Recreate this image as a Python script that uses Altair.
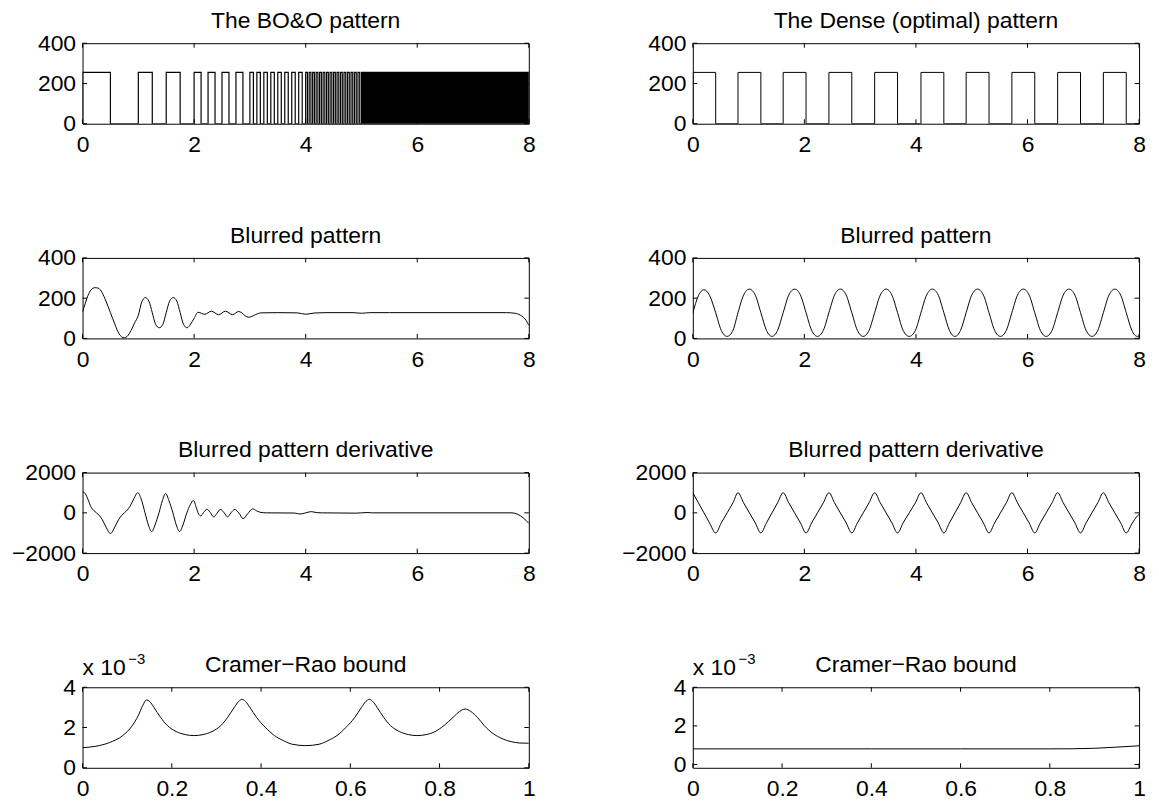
import altair as alt
import pandas as pd

FONT = "Liberation Sans"
FS = 23
W, H = 449, 81
TICK = 4.5

# ---------------- data ----------------
# BO&O pattern: number of equal (50% duty) pulses in each unit interval
bo_unit_start = [0, 1, 2, 3, 4, 5, 6, 7]
bo_pulses_per_unit = [1, 2, 4, 8, 16, 32, 64, 128]
pattern_level = 255

# Dense (optimal) pattern: rising / falling edges
dense_rise = [0, 0.81, 1.62, 2.44, 3.26, 4.09, 4.90, 5.72, 6.54, 7.36]
dense_fall = [0.41, 1.22, 2.03, 2.85, 3.67, 4.50, 5.31, 6.13, 6.95, 7.77]

# Blurred BO&O pattern
lb_x = [0, 0.05, 0.1, 0.15, 0.22, 0.28, 0.35, 0.42, 0.5, 0.58,
        0.65, 0.7, 0.75, 0.8, 0.87, 0.93, 1.0, 1.06, 1.125, 1.19,
        1.25, 1.31, 1.375, 1.44, 1.5, 1.56, 1.625, 1.69, 1.75, 1.81,
        1.875, 1.94, 2.0, 2.07, 2.19, 2.31, 2.44, 2.56, 2.69, 2.8,
        2.97, 3.1, 3.2, 3.5, 3.85, 4.0, 4.15, 4.4, 4.85, 5.0,
        5.15, 5.5, 7.6, 7.75, 7.85, 7.95, 8.0]
lb_y = [130, 175, 215, 240, 252, 250, 228, 185, 128, 70,
        25, 8, 3, 10, 40, 75, 115, 180, 203, 185,
        128, 70, 53, 70, 128, 185, 203, 185, 128, 70,
        53, 72, 100, 130, 120, 135, 118, 135, 118, 134,
        105, 118, 127, 128, 127, 120, 126, 128, 128, 125,
        128, 128, 128, 125, 115, 90, 65]

# Blurred BO&O pattern derivative
ld_x = [0, 0.05, 0.1, 0.15, 0.2, 0.25, 0.3, 0.35, 0.42, 0.5,
        0.58, 0.65, 0.7, 0.75, 0.8, 0.85, 0.92, 0.99, 1.05, 1.12,
        1.18, 1.24, 1.3, 1.37, 1.43, 1.49, 1.55, 1.62, 1.68, 1.74,
        1.8, 1.87, 1.93, 1.99, 2.04, 2.08, 2.12, 2.17, 2.23, 2.29,
        2.35, 2.41, 2.47, 2.54, 2.6, 2.66, 2.73, 2.8, 2.88, 2.96,
        3.05, 3.12, 3.2, 3.3, 3.8, 3.9, 4.0, 4.1, 4.2, 4.3,
        4.9, 5.0, 5.1, 5.2, 7.7, 7.8, 7.9, 8.0]
ld_y = [1050, 950, 650, 300, 120, 0, -130, -320, -700, -1030,
        -700, -320, -130, 0, 130, 320, 700, 1000, 700, 0,
        -600, -930, -600, 0, 600, 960, 600, 0, -600, -930,
        -600, 0, 400, 620, 250, -50, -150, 20, 180, 20,
        -200, -20, 170, 0, -200, 0, 170, 0, -290, -50,
        200, 100, 20, 0, -10, -60, 0, 60, 10, 0,
        -15, 0, 15, 0, 0, -70, -250, -520]

# Dense pattern: blurred and derivative (shared sample positions)
right_x = [0, 0.1, 0.2, 0.3, 0.41, 0.51, 0.615, 0.72,
           0.81, 0.91, 1.015, 1.12, 1.22, 1.32, 1.42, 1.52,
           1.62, 1.72, 1.825, 1.93, 2.03, 2.13, 2.235, 2.34,
           2.44, 2.54, 2.645, 2.75, 2.85, 2.95, 3.055, 3.16,
           3.26, 3.36, 3.465, 3.57, 3.67, 3.77, 3.88, 3.99,
           4.09, 4.19, 4.295, 4.40, 4.50, 4.60, 4.70, 4.80,
           4.90, 5.00, 5.105, 5.21, 5.31, 5.41, 5.515, 5.62,
           5.72, 5.82, 5.925, 6.03, 6.13, 6.23, 6.335, 6.44,
           6.54, 6.64, 6.745, 6.85, 6.95, 7.05, 7.155, 7.26,
           7.36, 7.46, 7.565, 7.67, 7.77, 7.87, 7.97, 8.0]
rb_y = [125, 212, 242, 214, 128, 40, 10, 40,
        128, 215, 245, 215, 128, 40, 10, 40,
        128, 215, 245, 215, 128, 40, 10, 40,
        128, 215, 245, 215, 128, 40, 10, 40,
        128, 215, 245, 215, 128, 40, 10, 40,
        128, 215, 245, 215, 128, 40, 10, 40,
        128, 215, 245, 215, 128, 40, 10, 40,
        128, 215, 245, 215, 128, 40, 10, 40,
        128, 215, 245, 215, 128, 40, 10, 40,
        128, 215, 245, 215, 128, 40, 10, 12]
rd_y = [1000, 500, 0, -500, -1000, -500, 0, 500,
        1000, 500, 0, -500, -1000, -500, 0, 500,
        1000, 500, 0, -500, -1000, -500, 0, 500,
        1000, 500, 0, -500, -1000, -500, 0, 500,
        1000, 500, 0, -500, -1000, -500, 0, 500,
        1000, 500, 0, -500, -1000, -500, 0, 500,
        1000, 500, 0, -500, -1000, -500, 0, 500,
        1000, 500, 0, -500, -1000, -500, 0, 500,
        1000, 500, 0, -500, -1000, -500, 0, 500,
        1000, 500, 0, -500, -1000, -550, -150, -80]

# Cramer-Rao bounds (units of 1e-3)
crl_x = [0, 0.03, 0.06, 0.09, 0.11, 0.125, 0.135, 0.143, 0.15, 0.16,
         0.175, 0.19, 0.21, 0.23, 0.25, 0.27, 0.29, 0.31, 0.325, 0.34,
         0.35, 0.357, 0.365, 0.375, 0.39, 0.41, 0.43, 0.45, 0.47, 0.5,
         0.53, 0.55, 0.57, 0.59, 0.61, 0.625, 0.635, 0.643, 0.65, 0.66,
         0.675, 0.69, 0.71, 0.73, 0.75, 0.77, 0.79, 0.81, 0.83, 0.845,
         0.857, 0.87, 0.885, 0.9, 0.92, 0.94, 0.96, 0.98, 1.0]
crl_y = [1.00, 1.07, 1.25, 1.6, 2.05, 2.6, 3.1, 3.37, 3.3, 3.0,
         2.5, 2.1, 1.8, 1.65, 1.6, 1.65, 1.8, 2.1, 2.5, 3.0,
         3.3, 3.4, 3.3, 3.0, 2.5, 2.0, 1.6, 1.35, 1.17, 1.10,
         1.17, 1.35, 1.6, 2.0, 2.5, 3.0, 3.3, 3.4, 3.3, 3.0,
         2.5, 2.1, 1.8, 1.65, 1.6, 1.65, 1.8, 2.1, 2.5, 2.8,
         2.92, 2.8, 2.5, 2.1, 1.7, 1.45, 1.3, 1.23, 1.22]
crr_x = [0, 0.2, 0.4, 0.6, 0.8, 0.85, 0.9, 0.95, 1.0]
crr_y = [0.81, 0.81, 0.81, 0.81, 0.81, 0.815, 0.84, 0.9, 0.97]

titles = ["The BO&O pattern", "The Dense (optimal) pattern",
          "Blurred pattern", "Blurred pattern",
          "Blurred pattern derivative", "Blurred pattern derivative",
          "Cramer\u2212Rao bound", "Cramer\u2212Rao bound"]
x8_ticks = [0, 2, 4, 6, 8]
x1_ticks = [0, 0.2, 0.4, 0.6, 0.8, 1]
pat_ticks = [0, 200, 400]
der_ticks = [-2000, 0, 2000]
cr_ticks = [0, 2, 4]


# ---------------- helpers ----------------
def step_frame(rises, falls, level, xmax):
    xs, ys = [], []
    for r, f in zip(rises, falls):
        xs += [r, r, f, f]
        ys += [0, level, level, 0]
    xs.append(xmax)
    ys.append(0)
    return pd.DataFrame({"x": xs, "y": ys, "i": range(len(xs))})


def line_frame(xs, ys):
    return pd.DataFrame({"x": xs, "y": ys, "i": range(len(xs))})


bo_rise, bo_fall = [], []
for s, n in zip(bo_unit_start, bo_pulses_per_unit):
    for k in range(n):
        bo_rise.append(s + k / n)
        bo_fall.append(s + (k + 0.5) / n)


def panel(df, xdom, ydom, xticks, yticks, title, interp, xfmt="d",
          sw=1.0, mult=False):
    xs = alt.Scale(domain=xdom, nice=False, zero=False)
    ys = alt.Scale(domain=ydom, nice=False, zero=False)
    xax = alt.Axis(values=xticks, format=xfmt, title=None, labelPadding=10,
                   domain=False, ticks=False, grid=False)
    yax = alt.Axis(values=yticks, format="d", title=None, labelPadding=7,
                   domain=False, ticks=False, grid=False)
    line = alt.Chart(df).mark_line(
        color="black", strokeWidth=sw, interpolate=interp, clip=True
    ).encode(
        x=alt.X("x:Q", scale=xs, axis=xax),
        y=alt.Y("y:Q", scale=ys, axis=yax),
        order=alt.Order("i:Q"),
    )
    xt = pd.DataFrame({"x": xticks})
    yt = pd.DataFrame({"y": yticks})
    rule = dict(color="black", strokeWidth=1)
    tb = alt.Chart(xt).mark_rule(**rule).encode(
        x=alt.X("x:Q", scale=xs, axis=xax), y=alt.value(H), y2=alt.value(H - TICK))
    tt = alt.Chart(xt).mark_rule(**rule).encode(
        x=alt.X("x:Q", scale=xs, axis=xax), y=alt.value(0), y2=alt.value(TICK))
    tl = alt.Chart(yt).mark_rule(**rule).encode(
        y=alt.Y("y:Q", scale=ys, axis=yax), x=alt.value(0), x2=alt.value(TICK))
    tr = alt.Chart(yt).mark_rule(**rule).encode(
        y=alt.Y("y:Q", scale=ys, axis=yax), x=alt.value(W), x2=alt.value(W - TICK))
    ttl = alt.Chart(pd.DataFrame({"label": [title]})).mark_text(
        font=FONT, fontSize=FS, align="center", baseline="alphabetic", color="black"
    ).encode(text="label:N", x=alt.value(W / 2), y=alt.value(-15.5))
    layers = [line, tb, tt, tl, tr, ttl]
    if mult:
        m1 = alt.Chart(pd.DataFrame({"label": ["x 10"]})).mark_text(
            font=FONT, fontSize=FS, align="left", baseline="alphabetic", color="black"
        ).encode(text="label:N", x=alt.value(0), y=alt.value(-12))
        m2 = alt.Chart(pd.DataFrame({"label": ["\u22123"]})).mark_text(
            font=FONT, fontSize=15, align="left", baseline="alphabetic", color="black"
        ).encode(text="label:N", x=alt.value(46), y=alt.value(-23))
        layers += [m1, m2]
    return alt.layer(*layers).properties(width=W, height=H)


panels = [
    panel(step_frame(bo_rise, bo_fall, pattern_level, 8), [0, 8], [0, 400],
          x8_ticks, pat_ticks, titles[0], "linear", sw=1.2),
    panel(step_frame(dense_rise, dense_fall, pattern_level, 8), [0, 8], [0, 400],
          x8_ticks, pat_ticks, titles[1], "linear"),
    panel(line_frame(lb_x, lb_y), [0, 8], [0, 400],
          x8_ticks, pat_ticks, titles[2], "monotone"),
    panel(line_frame(right_x, rb_y), [0, 8], [0, 400],
          x8_ticks, pat_ticks, titles[3], "monotone"),
    panel(line_frame(ld_x, ld_y), [0, 8], [-2000, 2000],
          x8_ticks, der_ticks, titles[4], "monotone"),
    panel(line_frame(right_x, rd_y), [0, 8], [-2000, 2000],
          x8_ticks, der_ticks, titles[5], "monotone"),
    panel(line_frame(crl_x, crl_y), [0, 1], [0, 4],
          x1_ticks, cr_ticks, titles[6], "monotone", xfmt=".1~f", mult=True),
    panel(line_frame(crr_x, crr_y), [0, 1], [-0.17, 4],
          x1_ticks, cr_ticks, titles[7], "monotone", xfmt=".1~f", mult=True),
]

chart = alt.concat(
    *panels, columns=2, spacing={"row": 135, "column": 165}, bounds="flush"
).properties(
    padding={"left": 2, "top": -1, "right": 5, "bottom": 0},
    background="white",
).configure_axis(
    labelFont=FONT, labelFontSize=FS, labelColor="black",
    labelFlush=False, labelOverlap=False,
).configure_view(stroke="black", strokeWidth=1)

chart.save("out.html", embed_options={"renderer": "svg", "actions": False})
